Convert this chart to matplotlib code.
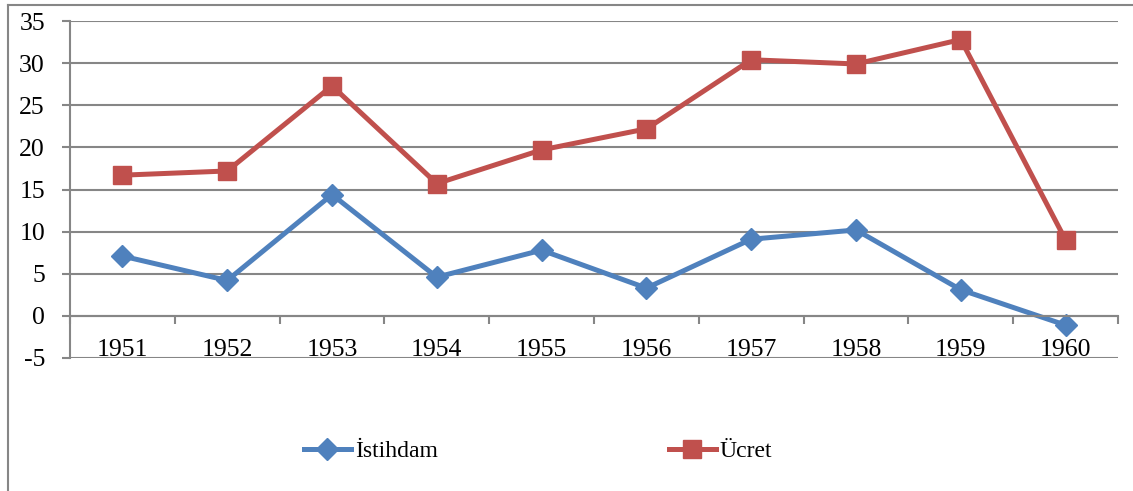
import matplotlib.pyplot as plt
from matplotlib.lines import Line2D

# data
years = ['1951', '1952', '1953', '1954', '1955', '1956', '1957', '1958', '1959', '1960']
istihdam = [7.1, 4.2, 14.4, 4.6, 7.8, 3.3, 9.1, 10.2, 3.1, -1.1]
ucret = [16.7, 17.2, 27.3, 15.7, 19.7, 22.2, 30.4, 29.9, 32.8, 9.0]

plt.rcParams['font.family'] = ['Liberation Serif', 'DejaVu Serif']
plt.rcParams['axes.unicode_minus'] = False
grid_col = '#868686'
fs = 18.5

fig = plt.figure(figsize=(11.33, 4.91), dpi=100)
ax = fig.add_axes([70 / 1133, 1 - 358 / 491, 1048 / 1133, 337 / 491])

x = list(range(len(years)))
ax.plot(x, istihdam, color='#4F81BD', lw=3.6, marker='D', ms=11, label='İstihdam')
ax.plot(x, ucret, color='#C0504D', lw=3.6, marker='s', ms=13, label='Ücret')

ax.set_xlim(-0.5, len(years) - 0.5)
ax.set_ylim(-5, 35)
ax.set_yticks(range(-5, 36, 5))
ax.grid(axis='y', color=grid_col, lw=1.5)
ax.set_axisbelow(True)

# x axis sits on zero, labels under it
ax.spines['bottom'].set_position(('data', 0))
ax.spines['bottom'].set_color(grid_col)
ax.spines['bottom'].set_linewidth(1.5)
ax.spines['left'].set_color(grid_col)
ax.spines['left'].set_linewidth(1.5)
ax.spines['top'].set_visible(False)
ax.spines['right'].set_visible(False)
ax.set_xticks(x)
ax.set_xticklabels(years)
ax.set_xticks([i - 0.5 for i in range(len(years) + 1)], minor=True)
ax.tick_params(axis='x', which='major', length=0, pad=16.5, labelsize=fs)
ax.tick_params(axis='x', which='minor', length=6, direction='out', color=grid_col, width=1.5)
ax.tick_params(axis='y', length=6, direction='out', color=grid_col, width=1.5, pad=12, labelsize=fs)

# outer chart border
fig.add_artist(Line2D([7.5 / 1133, 7.5 / 1133], [0, 1 - 5 / 491], color=grid_col, lw=1.5))
fig.add_artist(Line2D([7.5 / 1133, 1], [1 - 5 / 491, 1 - 5 / 491], color=grid_col, lw=1.5))

fig.legend(loc='center', bbox_to_anchor=(538 / 1133, 1 - 451 / 491), ncol=2,
           frameon=False, fontsize=17, columnspacing=9.8, handlelength=2.0, handletextpad=0.15)

fig.savefig('out.png', dpi=100)
